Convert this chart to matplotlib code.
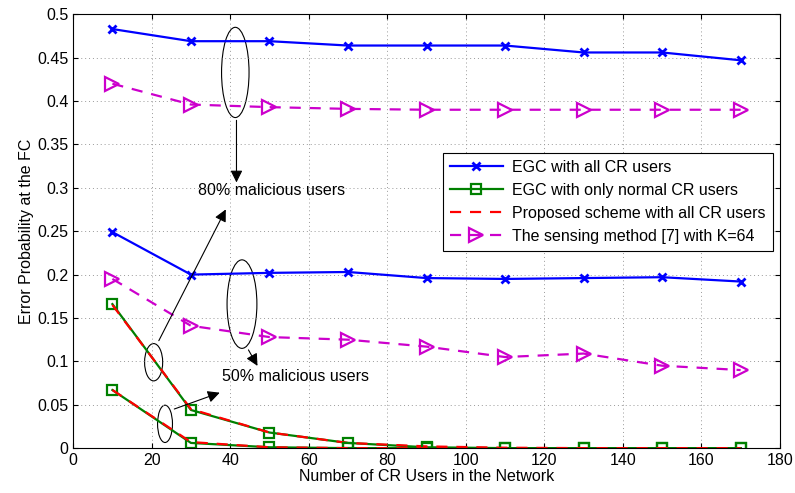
import numpy as np
import matplotlib.pyplot as plt
from matplotlib.patches import Ellipse
from matplotlib.ticker import FuncFormatter

plt.rcParams['font.family'] = ['Liberation Sans', 'DejaVu Sans']

users = [10, 30, 50, 70, 90, 110, 130, 150, 170]

# 80% malicious users
egc_all_80 = [0.483, 0.469, 0.469, 0.464, 0.464, 0.464, 0.456, 0.456, 0.447]
sensing_80 = [0.420, 0.396, 0.393, 0.391, 0.390, 0.390, 0.390, 0.390, 0.390]
egc_normal_80 = [0.166, 0.044, 0.018, 0.006, 0.001, 0.0, 0.0, 0.0, 0.0]
proposed_80 = [0.165, 0.045, 0.018, 0.006, 0.002, 0.0005, 0.0, 0.0, 0.0]

# 50% malicious users
egc_all_50 = [0.249, 0.200, 0.202, 0.203, 0.196, 0.195, 0.196, 0.197, 0.192]
sensing_50 = [0.195, 0.141, 0.128, 0.125, 0.117, 0.105, 0.109, 0.095, 0.090]
egc_normal_50 = [0.067, 0.006, 0.001, 0.0, 0.0, 0.0, 0.0, 0.0, 0.0]
proposed_50 = [0.067, 0.007, 0.001, 0.0, 0.0, 0.0, 0.0, 0.0, 0.0]

fig = plt.figure(figsize=(7.95, 4.93), dpi=100)
ax = fig.add_axes([0.092, 0.091, 0.889, 0.880])

blue = dict(color='#0000ff', marker='x', markersize=6, markeredgewidth=2, linewidth=1.6)
green = dict(color='#008000', marker='s', markersize=7, markerfacecolor='none',
             markeredgewidth=1.6, linewidth=1.6)
red = dict(color='#ff0000', linestyle='--', linewidth=1.6, dashes=(5, 4))
magenta = dict(color='#cc00cc', linestyle='--', marker='>', markersize=9.5,
               markerfacecolor='none', markeredgewidth=1.6, linewidth=1.6, dashes=(5, 4))

ax.plot(users, egc_all_80, label='EGC with all CR users', **blue)
ax.plot(users, egc_normal_80, label='EGC with only normal CR users', **green)
ax.plot(users, proposed_80, label='Proposed scheme with all CR users', **red)
ax.plot(users, sensing_80, label='The sensing method [7] with K=64', **magenta)

ax.plot(users, egc_all_50, **blue)
ax.plot(users, egc_normal_50, **green)
ax.plot(users, proposed_50, **red)
ax.plot(users, sensing_50, **magenta)

# annotations
for (cx, cy, w, h) in [(41.3, 0.433, 7, 0.104), (43.0, 0.166, 7.6, 0.102),
                       (20.5, 0.099, 4.6, 0.043), (23.4, 0.028, 3.8, 0.043)]:
    ax.add_patch(Ellipse((cx, cy), w, h, fill=False, edgecolor='black', linewidth=0.8))

arrow = dict(arrowstyle='-|>', color='black', linewidth=0.8, mutation_scale=18)
ax.annotate('', xy=(41.6, 0.303), xytext=(41.6, 0.381), arrowprops=arrow)
ax.annotate('', xy=(47.3, 0.092), xytext=(44.3, 0.116), arrowprops=arrow)
ax.annotate('', xy=(39.2, 0.278), xytext=(21.5, 0.121), arrowprops=arrow)
ax.annotate('', xy=(38.0, 0.065), xytext=(25.1, 0.044), arrowprops=arrow)
ax.text(50.5, 0.297, '80% malicious users', ha='center', va='center', fontsize=11.5)
ax.text(56.7, 0.082, '50% malicious users', ha='center', va='center', fontsize=11.5)

ax.set_xlim(0, 180)
ax.set_ylim(0, 0.5)
ax.set_xticks(np.arange(0, 181, 20))
ax.set_yticks(np.arange(0, 0.501, 0.05))
ax.yaxis.set_major_formatter(FuncFormatter(lambda v, p: '%g' % round(v, 2)))
ax.tick_params(labelsize=11.5, direction='in', top=True, right=True)
ax.grid(True, linestyle=(0, (1, 3)), color='#999999', linewidth=0.7)
ax.set_xlabel('Number of CR Users in the Network', fontsize=11.5, labelpad=1)
ax.set_ylabel('Error Probability at the FC', fontsize=11.5, labelpad=2)

leg = ax.legend(loc='upper right', bbox_to_anchor=(0.99, 0.681), fontsize=11.5,
                fancybox=False, framealpha=1, edgecolor='black', handlelength=3.3,
                borderpad=0.45, labelspacing=0.5, borderaxespad=0, handletextpad=0.6)
leg.get_frame().set_linewidth(0.8)

plt.savefig('out.png')
